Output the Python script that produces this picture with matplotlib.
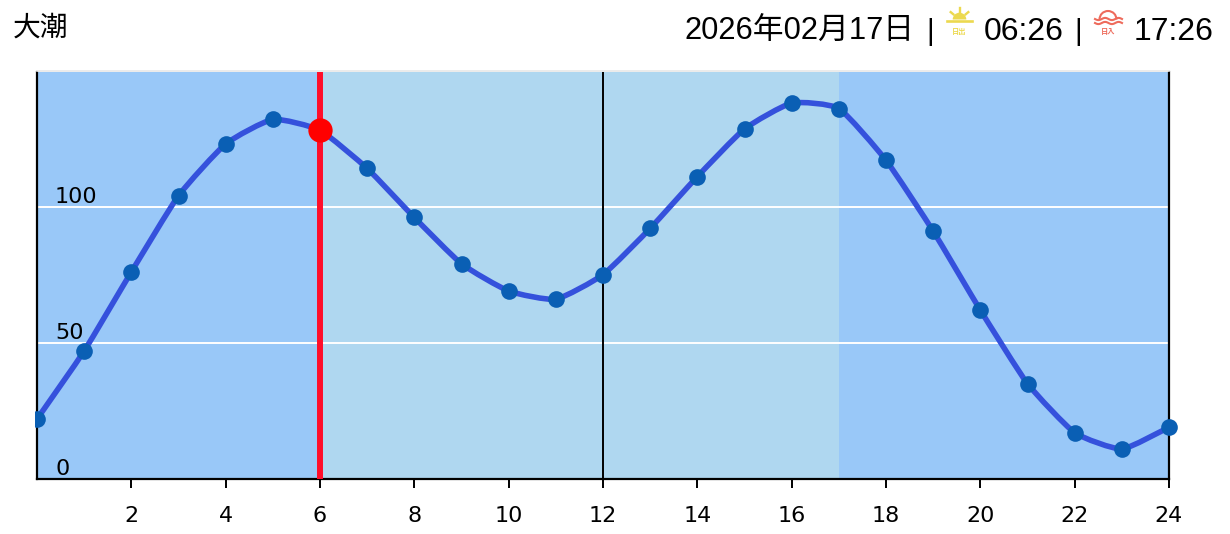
import matplotlib
matplotlib.use('Agg')
import matplotlib.pyplot as plt
from matplotlib.path import Path
from matplotlib.patches import PathPatch, Wedge, Arc, Rectangle
import numpy as np

hours = list(range(25))
tide = [22, 47, 76, 104, 123, 132, 128, 114, 96, 79, 69, 66, 75, 92, 111, 128.5,
        138, 136, 117, 91, 62, 35, 17, 11, 19]
x_ticks = [2, 4, 6, 8, 10, 12, 14, 16, 18, 20, 22, 24]
y_labels = [0, 50, 100]
grid_levels = [50, 100]
day_start = 6
day_end = 17
now_hour = 6
now_value = 128
noon = 12

W, H = 1230, 534
DARK = '#99c8f8'
LIGHT = '#afd7f0'
HEAD_FONT = ['Liberation Sans', 'Noto Sans CJK JP']
SUN = '#ecd94f'
SET = '#ee6b5c'


def smooth_path(xs, ys, k=12):
    # cardinal spline through the points, as bezier segments
    # the reference line flattens a little at each point, hence the low tension
    verts = [(xs[0], ys[0])]
    codes = [Path.MOVETO]
    n = len(xs)
    for i in range(n - 1):
        x0, y0 = xs[max(i - 1, 0)], ys[max(i - 1, 0)]
        x1, y1 = xs[i], ys[i]
        x2, y2 = xs[i + 1], ys[i + 1]
        x3, y3 = xs[min(i + 2, n - 1)], ys[min(i + 2, n - 1)]
        verts += [(x1 + (x2 - x0) / k, y1 + (y2 - y0) / k),
                  (x2 - (x3 - x1) / k, y2 - (y3 - y1) / k),
                  (x2, y2)]
        codes += [Path.CURVE4] * 3
    return Path(verts, codes)


fig = plt.figure(figsize=(W / 100, H / 100), dpi=100)
ax = fig.add_axes([37 / W, 1 - 479 / H, 1132 / W, 407 / H])
ax.set_xlim(0, 24)
ax.set_ylim(0, 149.4)
ax.set_facecolor(DARK)

ax.axvspan(day_start, day_end, color=LIGHT, lw=0, zorder=1)
for g in grid_levels:
    ax.axhline(g, color='white', lw=1.4, zorder=2)
ax.axvline(noon, color='black', lw=1.4, zorder=2)
ax.axvline(now_hour, color='#ff0d2a', lw=4.3, zorder=3)

# markers run past the right edge but are cut just left of the y axis
clip = Rectangle((-2 / 1132, -0.05), 1 + 12 / 1132, 1.1, transform=ax.transAxes)
curve = ax.add_patch(PathPatch(smooth_path(hours, tide), fc='none', ec='#3551dc', lw=4, zorder=4))
curve.set_clip_path(clip)
dots, = ax.plot(hours, tide, 'o', color='#0a5fb4', ms=12, mew=0, zorder=5)
dots.set_clip_path(clip)
ax.plot([now_hour], [now_value], 'o', color='#ff0000', ms=17.5, mew=0, zorder=6)

ax.set_xticks(x_ticks)
ax.set_yticks([])
ax.tick_params(axis='x', length=6.8, width=1.4, pad=13, labelsize=16)
ax.spines['top'].set_visible(False)
for s in ['left', 'bottom', 'right']:
    ax.spines[s].set_linewidth(1.6)
for v in y_labels:
    ax.annotate(str(v), (0, v), xytext=(13, -0.2), textcoords='offset points',
                fontsize=16, ha='left', va='bottom', zorder=7)

# header and the two little sun icons, in pixel coordinates
top = fig.add_axes([0, 0, 1, 1], facecolor='none')
top.set_xlim(0, W)
top.set_ylim(H, 0)
top.axis('off')
top.plot([37, 1169], [71, 71], color='#e8e8e8', lw=1.2)

top.text(13, 29, '大潮', fontsize=20, family=HEAD_FONT, va='center', ha='left')
top.text(914.5, 31.5, '2026年02月17日', fontsize=22.2, family=HEAD_FONT, va='center', ha='right')
top.text(930, 31.5, '|', fontsize=21, family=HEAD_FONT, va='center', ha='center')
top.text(984, 31.5, '06:26', fontsize=23, family=HEAD_FONT, va='center', ha='left')
top.text(1078, 31.5, '|', fontsize=21, family=HEAD_FONT, va='center', ha='center')
top.text(1134, 31.5, '17:26', fontsize=23, family=HEAD_FONT, va='center', ha='left')

# sunrise
top.add_patch(Wedge((959.5, 19.5), 6.8, 180, 360, color=SUN, lw=0))
top.plot([947, 972], [20.5, 20.5], color=SUN, lw=1.9)
for a in [-140, -90, -40]:
    c, s = np.cos(np.radians(a)), np.sin(np.radians(a))
    top.plot([959.5 + 8 * c, 959.5 + 11.5 * c], [19.5 + 8 * s, 19.5 + 11.5 * s], color=SUN, lw=1.7)
top.text(959.5, 32.5, '日出', fontsize=5.2, family=HEAD_FONT, color=SUN, ha='center', va='center',
         fontweight='bold')

# sunset
top.add_patch(Arc((1108, 19.5), 17, 17, theta1=180, theta2=360, color=SET, lw=1.5))
for wy in [19, 23]:
    wx = np.linspace(1095, 1122, 40)
    top.plot(wx, wy + 1.1 * np.sin((wx - 1095) / 27 * 4 * np.pi), color=SET, lw=1.5)
top.text(1108, 32.5, '日入', fontsize=5.2, family=HEAD_FONT, color=SET, ha='center', va='center',
         fontweight='bold')

fig.savefig('out.png', dpi=100)
